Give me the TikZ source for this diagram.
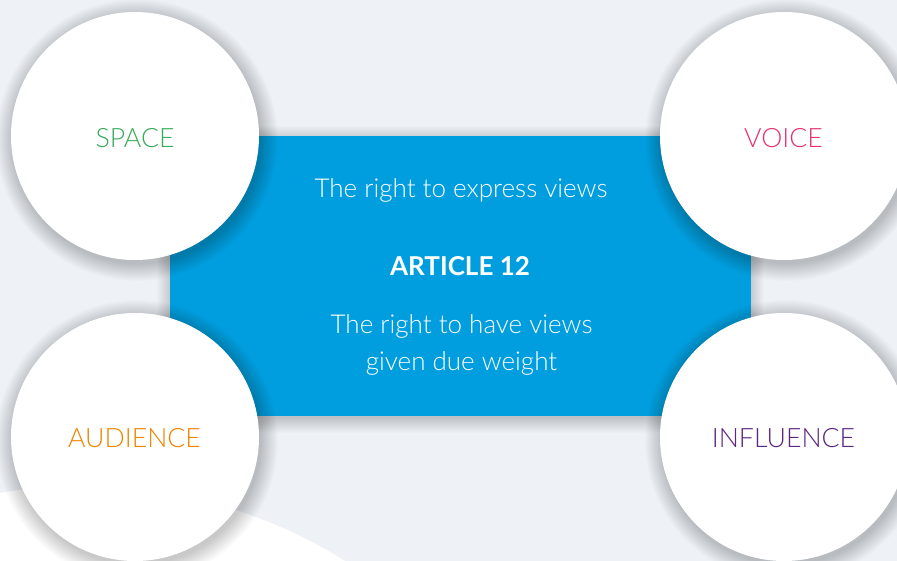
\documentclass[tikz,border=0pt]{standalone}
\usepackage{fontspec}
\setmainfont{Lato Light}[BoldFont=Lato Bold]
\newfontfamily\regfont{Lato}
\definecolor{bgc}{HTML}{EEF2F6}
\definecolor{artblue}{HTML}{009EDF}
\definecolor{cgreen}{HTML}{3AAA5C}
\definecolor{cpink}{HTML}{E5336F}
\definecolor{corange}{HTML}{EF8400}
\definecolor{cpurple}{HTML}{5E2483}
\tikzset{
  bubble/.style={circle, fill=white, minimum size=186pt, inner sep=0pt},
  artbox/.style={rectangle, fill=artblue, minimum width=435.75pt, minimum height=210pt, inner sep=0pt},
  shadowlayer/.style={fill=black, fill opacity=0.012, draw=none},
  lbl/.style={anchor=base, inner sep=0pt, font=\fontsize{20}{24}\selectfont},
  arttext/.style={anchor=base, inner sep=0pt, text=white, font=\fontsize{19.5}{24}\selectfont},
}
\begin{document}
\begin{tikzpicture}[x=0.75pt,y=-0.75pt]
\useasboundingbox (0,0) rectangle (897,561);
\fill[bgc] (0,0) rectangle (897,561);
\begin{scope}
  \clip (0,0) rectangle (897,561);
  \fill[white] (83,981) circle [radius=371.25pt];
  % shadow of the article box
  \foreach \k in {1,...,16}
    \fill[shadowlayer] (170-\k+3,136-\k+6) rectangle (751+\k-3,416+\k+1);
\end{scope}
\node[artbox] (art) at (460.5,276) {};
\begin{scope}
  \clip (0,0) rectangle (897,561);
  \foreach \cx/\cy in {135/136,784/136,135/437,784/437}
    \foreach \k in {1,...,18}
      \fill[shadowlayer] (\cx+2,\cy+4) circle [radius=92.25pt+\k*0.75pt];
\end{scope}
\node[bubble] (space) at (135,136) {};
\node[bubble] (voice) at (784,136) {};
\node[bubble] (audience) at (135,437) {};
\node[bubble] (influence) at (784,437) {};
\node[lbl, text=cgreen] (tspace) at (135,147) {SPACE};
\node[lbl, text=cpink] (tvoice) at (783.5,147) {VOICE};
\node[lbl, text=corange] (taud) at (134.5,447) {AUDIENCE};
\node[lbl, text=cpurple] (tinf) at (783.5,447) {INFLUENCE};
\node[arttext] (l1) at (461,197) {The right to express views};
\node[arttext, font=\fontsize{19.5}{24}\selectfont\bfseries] (l2) at (460,275) {ARTICLE 12};
\node[arttext] (l3) at (461.5,333) {The right to have views};
\node[arttext] (l4) at (461.5,370) {given due weight};
\end{tikzpicture}
\end{document}
